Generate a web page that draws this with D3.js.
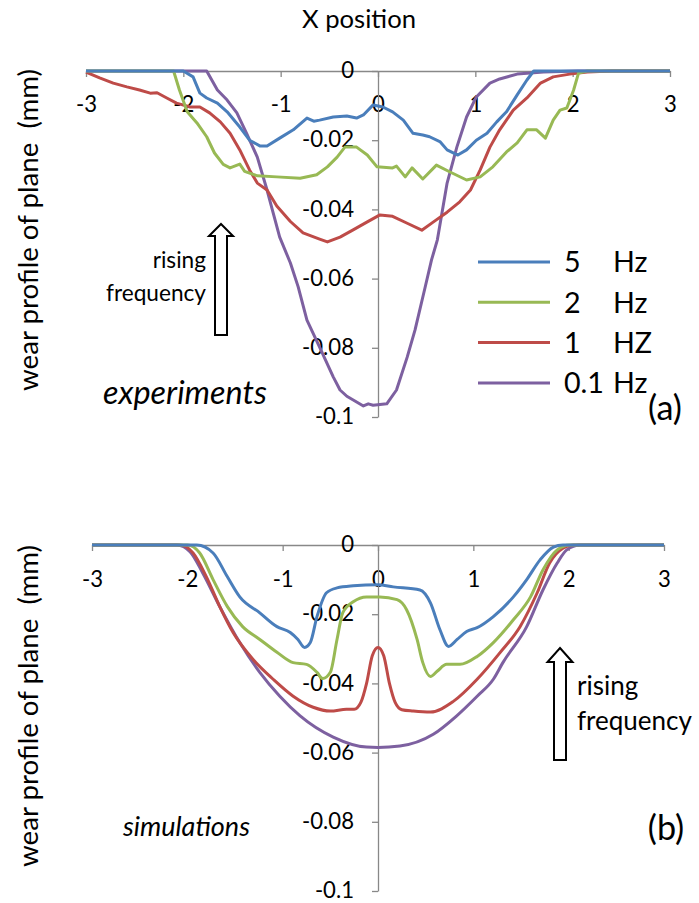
<!DOCTYPE html>
<html>
<head>
<meta charset="utf-8">
<script src="https://cdn.jsdelivr.net/npm/d3@7/dist/d3.min.js"></script>
<style>
  html, body { margin: 0; padding: 0; background: #fff; }
  svg { display: block; font-family: Lato, "Open Sans", sans-serif; }
</style>
</head>
<body>
<svg id="chart" width="699" height="903"></svg>
<script>
// ---------- data ----------
const xTicks = [-3, -2, -1, 0, 1, 2, 3];
const yTicks = [0, -0.02, -0.04, -0.06, -0.08, -0.1];
const yTickLabels = ["0", "-0.02", "-0.04", "-0.06", "-0.08", "-0.1"];
const xTickLabels = ["-3", "-2", "-1", "0", "1", "2", "3"];

const seriesNames = ["5", "2", "1", "0.1"];
const seriesUnits = ["Hz", "Hz", "HZ", "Hz"];
const seriesColors = ["#4a7ebb", "#98b954", "#be4b48", "#7d60a0"];

// experiments (panel a): [x, wear]
const exp5 = [[-3,0],[-2.0,0],[-1.90,-0.0017],[-1.83,-0.0064],[-1.76,-0.0078],[-1.65,-0.0093],[-1.55,-0.0118],[-1.42,-0.0162],[-1.32,-0.020],[-1.21,-0.0217],[-1.14,-0.0217],[-1.01,-0.0194],[-0.87,-0.017],[-0.73,-0.0136],[-0.66,-0.0145],[-0.60,-0.0142],[-0.46,-0.0133],[-0.32,-0.013],[-0.22,-0.0136],[-0.15,-0.0127],[-0.05,-0.0098],[0.05,-0.0104],[0.15,-0.0118],[0.26,-0.0142],[0.36,-0.018],[0.46,-0.0185],[0.53,-0.019],[0.64,-0.0205],[0.71,-0.0228],[0.82,-0.0243],[0.91,-0.0228],[1.01,-0.020],[1.12,-0.018],[1.22,-0.0147],[1.32,-0.0118],[1.43,-0.0069],[1.53,-0.0026],[1.6,0],[3,0]];
const exp2 = [[-3,0],[-2.1,0],[-2.04,-0.0055],[-1.96,-0.0118],[-1.86,-0.015],[-1.76,-0.019],[-1.68,-0.0237],[-1.59,-0.027],[-1.52,-0.028],[-1.42,-0.0269],[-1.37,-0.029],[-1.24,-0.0303],[-1.04,-0.0306],[-0.80,-0.031],[-0.63,-0.030],[-0.52,-0.0277],[-0.42,-0.0249],[-0.34,-0.022],[-0.22,-0.022],[-0.11,-0.0243],[-0.01,-0.0277],[0.15,-0.028],[0.19,-0.0275],[0.28,-0.0306],[0.35,-0.028],[0.46,-0.0312],[0.60,-0.0272],[0.74,-0.0292],[0.91,-0.0315],[1.05,-0.0306],[1.18,-0.0277],[1.32,-0.0234],[1.43,-0.0208],[1.53,-0.017],[1.63,-0.017],[1.72,-0.0194],[1.80,-0.0142],[1.87,-0.0113],[1.94,-0.0107],[2.01,-0.0055],[2.06,-0.0006],[2.15,0],[3,0]];
const exp1 = [[-3,-0.0003],[-2.86,-0.002],[-2.72,-0.0035],[-2.58,-0.0046],[-2.45,-0.0055],[-2.34,-0.0064],[-2.27,-0.0063],[-2.17,-0.0078],[-2.07,-0.0093],[-1.93,-0.0104],[-1.83,-0.0104],[-1.73,-0.0121],[-1.62,-0.0147],[-1.52,-0.018],[-1.42,-0.0228],[-1.32,-0.0286],[-1.24,-0.0324],[-1.14,-0.0344],[-1.04,-0.039],[-0.90,-0.0435],[-0.77,-0.0468],[-0.60,-0.0486],[-0.52,-0.0494],[-0.39,-0.048],[-0.26,-0.046],[-0.11,-0.0436],[0.02,-0.0416],[0.15,-0.042],[0.30,-0.044],[0.45,-0.046],[0.57,-0.0436],[0.71,-0.0408],[0.84,-0.0378],[0.95,-0.0344],[1.05,-0.0286],[1.15,-0.022],[1.25,-0.017],[1.39,-0.0113],[1.53,-0.0078],[1.67,-0.0035],[1.80,-0.0017],[1.97,-0.0009],[2.15,-0.0003],[2.4,0],[3,0]];
const exp01 = [[-3,0],[-1.76,0],[-1.65,-0.0055],[-1.55,-0.0084],[-1.45,-0.0121],[-1.35,-0.018],[-1.24,-0.0249],[-1.14,-0.0344],[-1.01,-0.048],[-0.90,-0.0555],[-0.82,-0.0624],[-0.73,-0.072],[-0.60,-0.0798],[-0.46,-0.0884],[-0.39,-0.0922],[-0.32,-0.094],[-0.15,-0.0968],[-0.10,-0.0962],[-0.05,-0.0966],[0.09,-0.0962],[0.19,-0.0922],[0.30,-0.0827],[0.38,-0.0749],[0.48,-0.063],[0.55,-0.0546],[0.61,-0.0488],[0.71,-0.0324],[0.81,-0.022],[0.91,-0.0133],[1.01,-0.0075],[1.15,-0.0035],[1.25,-0.0023],[1.43,-0.0009],[1.70,-0.0003],[2.05,0],[3,0]];

// simulations (panel b): [x, wear]
const sim5 = [[-3,0],[-1.9,0],[-1.73,-0.0023],[-1.58,-0.0092],[-1.45,-0.015],[-1.24,-0.0196],[-1.06,-0.0236],[-0.92,-0.0253],[-0.84,-0.0273],[-0.77,-0.0296],[-0.71,-0.0282],[-0.64,-0.0207],[-0.54,-0.0138],[-0.43,-0.0124],[-0.26,-0.0118],[0,-0.0115],[0.16,-0.0121],[0.44,-0.013],[0.55,-0.0167],[0.65,-0.0245],[0.74,-0.0293],[0.83,-0.0273],[0.93,-0.025],[1.04,-0.0239],[1.21,-0.0207],[1.42,-0.015],[1.56,-0.01],[1.70,-0.0043],[1.84,-0.0006],[1.94,0],[3,0]];
const sim2 = [[-3,0],[-2.0,0],[-1.87,-0.0023],[-1.73,-0.01],[-1.58,-0.0178],[-1.42,-0.0236],[-1.24,-0.0273],[-1.06,-0.031],[-0.89,-0.034],[-0.75,-0.0345],[-0.64,-0.0368],[-0.58,-0.0386],[-0.50,-0.0368],[-0.43,-0.0273],[-0.37,-0.0196],[-0.26,-0.0164],[-0.12,-0.015],[0.02,-0.015],[0.2,-0.0158],[0.30,-0.0187],[0.41,-0.0273],[0.47,-0.034],[0.55,-0.038],[0.62,-0.0365],[0.72,-0.0345],[0.86,-0.0345],[1.04,-0.0322],[1.21,-0.0282],[1.42,-0.0216],[1.60,-0.015],[1.73,-0.0072],[1.88,-0.0014],[2.01,0],[3,0]];
const sim1 = [[-3,0],[-2.08,0],[-1.94,-0.0023],[-1.80,-0.0092],[-1.66,-0.0178],[-1.52,-0.0253],[-1.31,-0.0331],[-1.10,-0.0388],[-0.89,-0.0437],[-0.68,-0.0469],[-0.50,-0.048],[-0.33,-0.0475],[-0.25,-0.0475],[-0.18,-0.0455],[-0.12,-0.040],[-0.06,-0.032],[0,-0.0296],[0.06,-0.032],[0.12,-0.040],[0.18,-0.0455],[0.25,-0.0476],[0.37,-0.048],[0.55,-0.0483],[0.79,-0.0452],[1.04,-0.0388],[1.28,-0.0311],[1.49,-0.0236],[1.67,-0.0138],[1.80,-0.0052],[1.94,-0.0009],[2.05,0],[3,0]];
const sim01 = [[-3,0],[-2.11,0],[-1.97,-0.002],[-1.84,-0.008],[-1.66,-0.0178],[-1.45,-0.0282],[-1.24,-0.0368],[-1.03,-0.0437],[-0.82,-0.0493],[-0.47,-0.0555],[-0.12,-0.0584],[0,-0.0585],[0.23,-0.0581],[0.58,-0.0547],[0.82,-0.0495],[1.04,-0.0437],[1.21,-0.0388],[1.31,-0.034],[1.56,-0.0236],[1.73,-0.013],[1.88,-0.0052],[1.98,-0.0014],[2.12,0],[3,0]];

const expSeries = [exp5, exp2, exp1, exp01];
const simSeries = [sim5, sim2, sim1, sim01];

// ---------- drawing ----------
const svg = d3.select("#chart");
const axisColor = "#888888";
const font = "Lato, 'Open Sans', sans-serif";

// font size so that a sample string reaches a given width
function sizeFor(sample, width, opts) {
  const t = svg.append("text").attr("font-family", font).attr("font-size", 20)
    .attr("font-style", (opts && opts.italic) ? "italic" : "normal")
    .style("white-space", "pre").text(sample);
  const len = t.node().getComputedTextLength();
  t.remove();
  return len > 0 ? 20 * width / len : 20;
}
const tickFS = sizeFor("-0.02", 52);
const yTitleFS = sizeFor("wear profile of plane  (mm)", 322);
const titleFS = sizeFor("X position", 114);
const legendFS = sizeFor("0.1", 40);
const smallNoteFS = sizeFor("frequency", 100);
const bigNoteFS = sizeFor("frequency", 115);
const expFS = sizeFor("experiments", 164, { italic: true });
const simFS = sizeFor("simulations", 127, { italic: true });
const tagFS = sizeFor("(a)", 34);

function panel(cfg) {
  const x = d3.scaleLinear().domain([-3, 3]).range(cfg.xr);
  const y = d3.scaleLinear().domain([-0.1, 0]).range(cfg.yr);
  const g = svg.append("g");

  const xa = g.append("g").attr("transform", `translate(0,${y(0)})`)
    .call(d3.axisBottom(x).tickValues(xTicks).tickSize(6).tickSizeOuter(0)
      .tickFormat((d, i) => xTickLabels[i]));
  xa.select(".domain").attr("stroke", axisColor).attr("stroke-width", 1.3);
  xa.selectAll(".tick line").attr("stroke", axisColor).attr("stroke-width", 1.3);
  xa.selectAll(".tick text").attr("y", cfg.xLabelOff).attr("dy", "0.35em")
    .attr("font-size", tickFS).attr("font-family", font).attr("fill", "#000");

  const ya = g.append("g").attr("transform", `translate(${x(0)},0)`)
    .call(d3.axisLeft(y).tickValues(yTicks).tickSize(6).tickSizeOuter(0)
      .tickFormat((d, i) => yTickLabels[i]));
  ya.select(".domain").attr("stroke", axisColor).attr("stroke-width", 1.3);
  ya.selectAll(".tick line").attr("stroke", axisColor).attr("stroke-width", 1.3);
  ya.selectAll(".tick text").attr("x", -24).attr("dy", "0.3em")
    .attr("font-size", tickFS).attr("font-family", font).attr("fill", "#000");

  const line = d3.line().x(d => x(d[0])).y(d => y(d[1])).curve(cfg.curve);
  [3, 2, 1, 0].forEach(i => {
    g.append("path").datum(cfg.series[i])
      .attr("d", line).attr("fill", "none")
      .attr("stroke", seriesColors[i]).attr("stroke-width", 3)
      .attr("stroke-linejoin", "round");
  });

  g.append("text")
    .attr("transform", `translate(${cfg.yTitleX},${cfg.yTitleY}) rotate(-90)`)
    .attr("text-anchor", "middle").attr("font-size", yTitleFS).attr("font-family", font)
    .style("white-space", "pre")
    .text("wear profile of plane  (mm)");
  return { x, y, g };
}

function upArrow(g, cx, tipY, headHalf, shaftHalf, headBase, bottom) {
  const pts = [[cx, tipY], [cx + headHalf, headBase], [cx + shaftHalf, headBase],
    [cx + shaftHalf, bottom], [cx - shaftHalf, bottom], [cx - shaftHalf, headBase],
    [cx - headHalf, headBase]];
  g.append("path").attr("d", d3.line()(pts) + "Z")
    .attr("fill", "#fff").attr("stroke", "#000").attr("stroke-width", 2);
}

svg.append("text").attr("x", 359).attr("y", 28).attr("text-anchor", "middle")
  .attr("font-size", titleFS).attr("font-family", font).text("X position");

panel({ xr: [86, 670], yr: [417, 71], series: expSeries,
  curve: d3.curveLinear, xLabelOff: 33, yTitleX: 38, yTitleY: 230 });
panel({ xr: [92, 664], yr: [891, 545], series: simSeries,
  curve: d3.curveMonotoneX, xLabelOff: 34, yTitleX: 38, yTitleY: 706 });

// legend
seriesNames.forEach((n, i) => {
  const ly = 262 + i * 40.3;
  svg.append("line").attr("x1", 478).attr("x2", 550).attr("y1", ly).attr("y2", ly)
    .attr("stroke", seriesColors[i]).attr("stroke-width", 3);
  svg.append("text").attr("x", 564).attr("y", ly).attr("dy", "0.36em")
    .attr("font-size", legendFS).attr("font-family", font).text(n);
  svg.append("text").attr("x", 613).attr("y", ly).attr("dy", "0.36em")
    .attr("font-size", legendFS).attr("font-family", font).text(seriesUnits[i]);
});

// panel a notes
svg.append("text").attr("x", 206).attr("y", 268).attr("text-anchor", "end")
  .attr("font-size", smallNoteFS).attr("font-family", font).text("rising");
svg.append("text").attr("x", 206).attr("y", 301).attr("text-anchor", "end")
  .attr("font-size", smallNoteFS).attr("font-family", font).text("frequency");
upArrow(svg, 221, 224, 12, 6, 236, 335);
svg.append("text").attr("x", 103).attr("y", 404).attr("font-style", "italic")
  .attr("font-size", expFS).attr("font-family", font).text("experiments");
svg.append("text").attr("x", 665).attr("y", 408).attr("text-anchor", "middle")
  .attr("dy", "0.35em").attr("font-size", tagFS).attr("font-family", font).text("(a)");

// panel b notes
upArrow(svg, 560, 648, 12.5, 6, 662, 760);
svg.append("text").attr("x", 577).attr("y", 695)
  .attr("font-size", bigNoteFS).attr("font-family", font).text("rising");
svg.append("text").attr("x", 577).attr("y", 730)
  .attr("font-size", bigNoteFS).attr("font-family", font).text("frequency");
svg.append("text").attr("x", 123).attr("y", 836).attr("font-style", "italic")
  .attr("font-size", simFS).attr("font-family", font).text("simulations");
svg.append("text").attr("x", 666).attr("y", 828).attr("text-anchor", "middle")
  .attr("dy", "0.35em").attr("font-size", tagFS).attr("font-family", font).text("(b)");
</script>
</body>
</html>
